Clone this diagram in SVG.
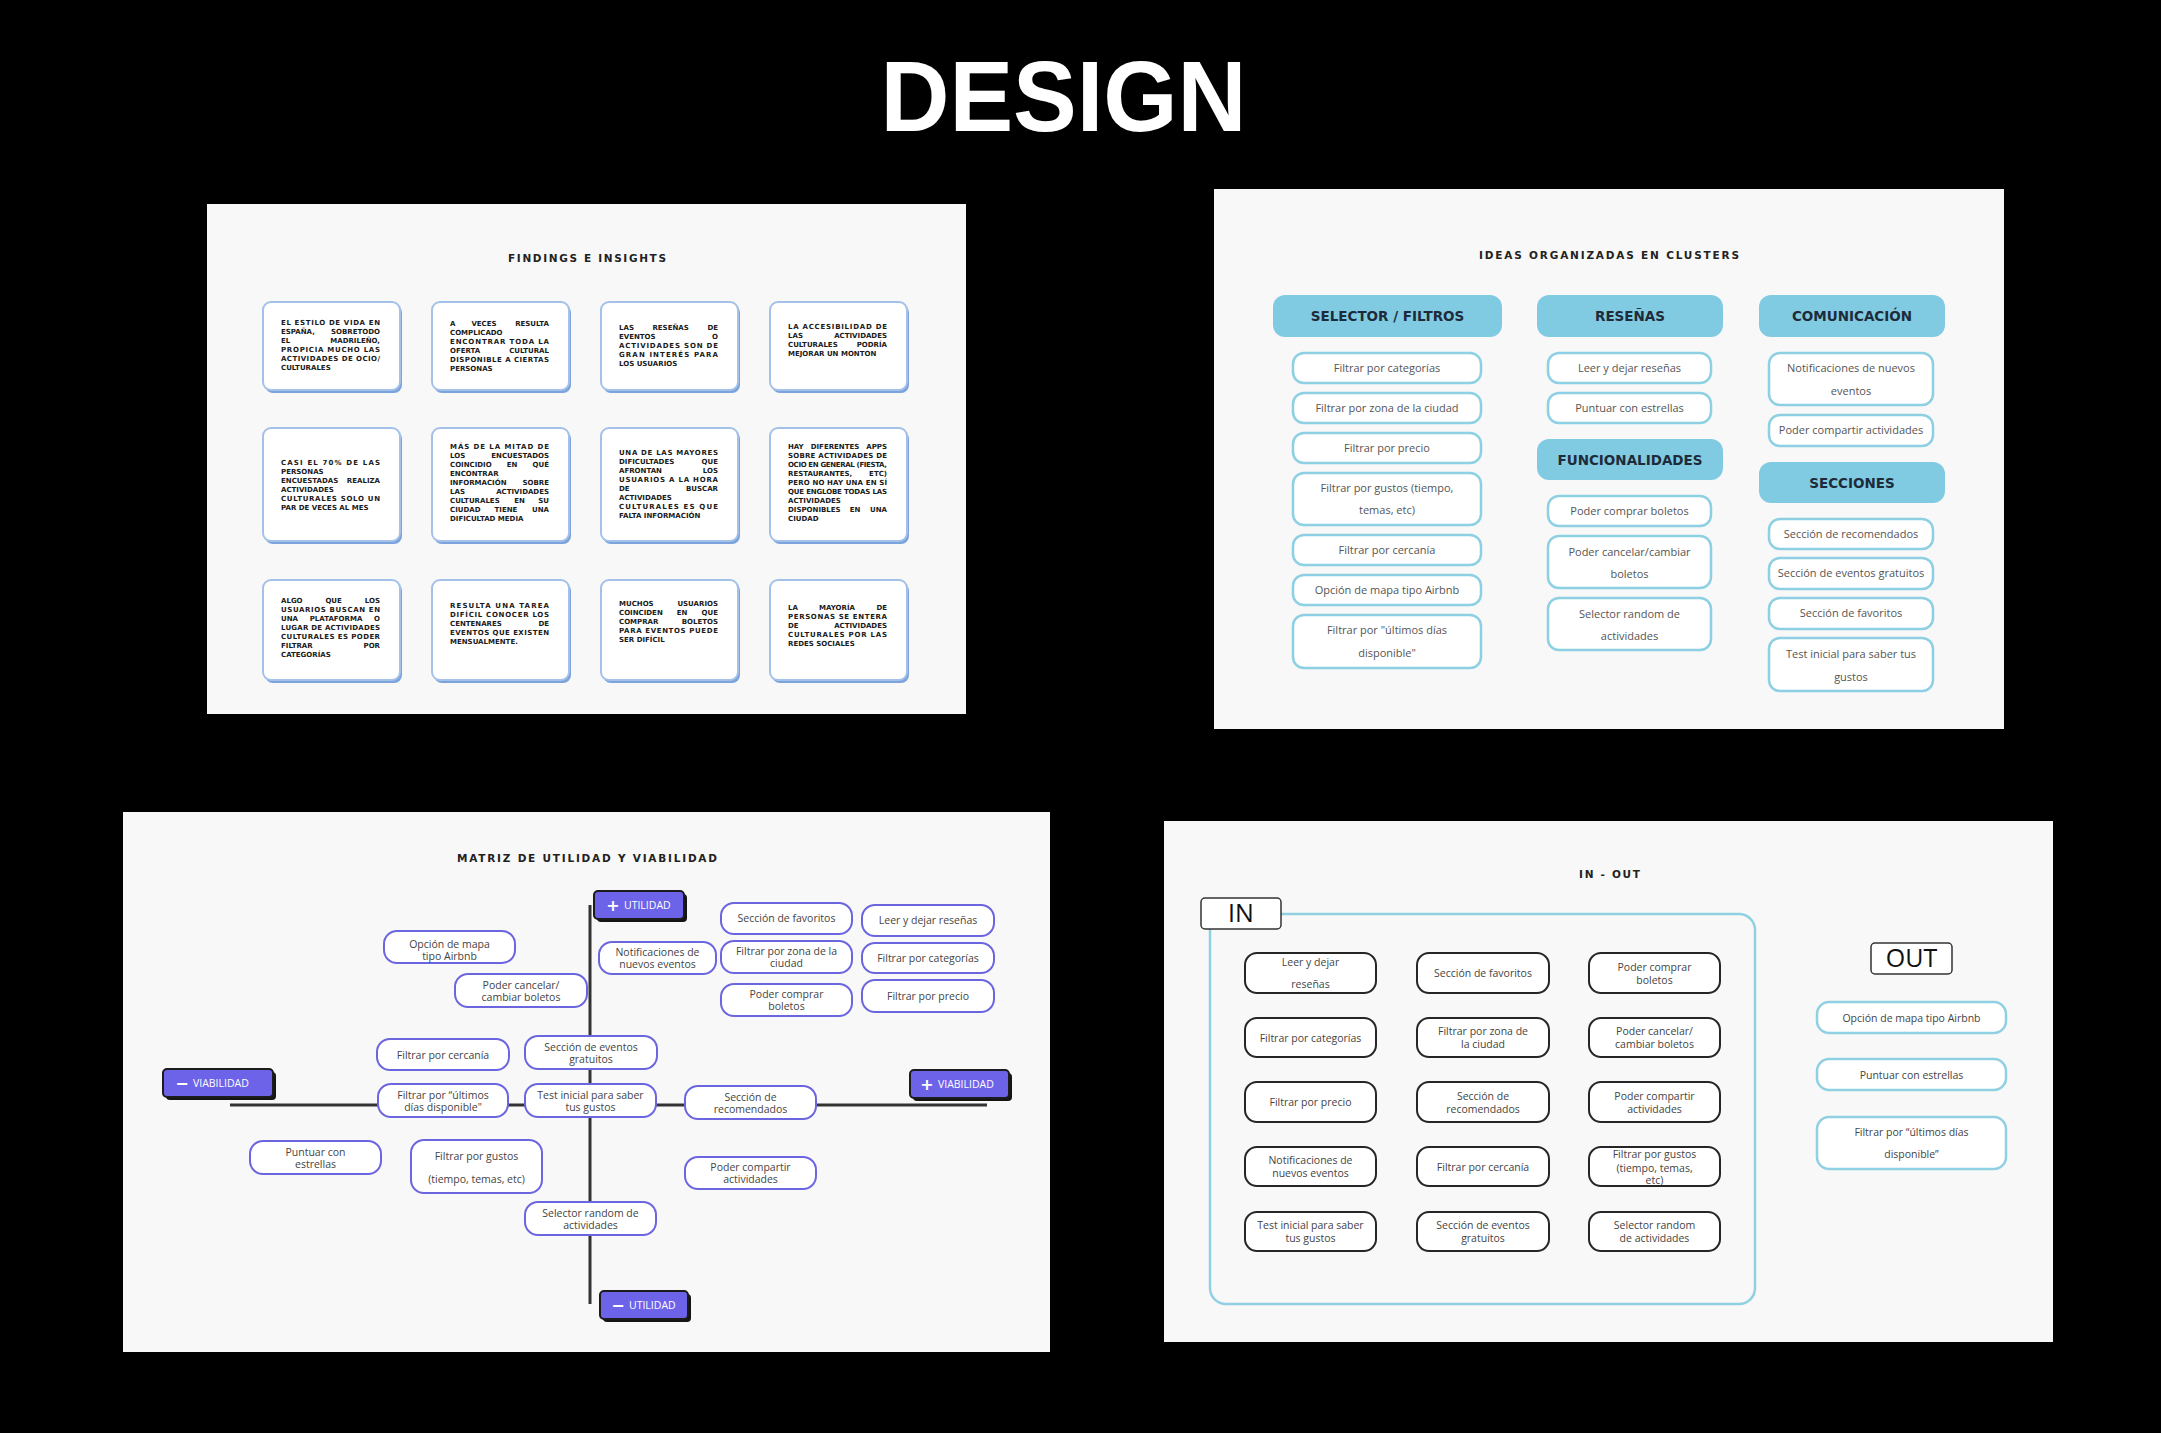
<svg xmlns="http://www.w3.org/2000/svg" width="2161" height="1433" viewBox="0 0 2161 1433">
<style>
.panel{fill:#f8f8f8}
.csh{fill:#7ba3dc}
.card{fill:#fff;stroke:#a4c1ea;stroke-width:2}
.ft{font-family:"DejaVu Sans",sans-serif;font-weight:bold;font-size:7px;fill:#1a1a1a}
.fe{text-anchor:end}
.fm{text-anchor:middle}
.ttl{font-family:"DejaVu Sans",sans-serif;font-weight:bold;font-size:10.5px;fill:#222}
.hdr{fill:#80cbe2}
.ht{font-family:"DejaVu Sans",sans-serif;font-weight:bold;font-size:13.5px;fill:#1e2b3a;text-anchor:middle}
.ci{fill:#fff;stroke:#8dd0e4;stroke-width:2.5}
.ct{font-family:"Open Sans",sans-serif;font-size:11px;fill:#555;text-anchor:middle}
.mi{fill:#fff;stroke:#6c65e0;stroke-width:2}
.mt{font-family:"Open Sans",sans-serif;font-size:10.5px;fill:#444;text-anchor:middle}
.axs{fill:#151515}
.axb{fill:#6d63e9;stroke:#1c1c1c;stroke-width:2}
.axt{font-family:"Open Sans",sans-serif;font-size:10.5px;fill:#fff}
.axp{font-family:"DejaVu Sans",sans-serif;font-weight:bold;font-size:16px;fill:#fff;text-anchor:middle}
.io{fill:#fff;stroke:#262626;stroke-width:2}
.ot{fill:#fff;stroke:#8fd0e3;stroke-width:2.5}
.lbl{fill:#fff;stroke:#333;stroke-width:1.5}
.lt{font-family:"Open Sans",sans-serif;font-size:25px;fill:#111;text-anchor:middle}
.axis{stroke:#333;stroke-width:3;fill:none}
</style>
<rect width="2161" height="1433" fill="#000"/>
<text x="1063.5" y="131" text-anchor="middle" textLength="366" lengthAdjust="spacingAndGlyphs" font-family="Liberation Sans, Arial, sans-serif" font-weight="bold" font-size="100" fill="#fff">DESIGN</text>

<!-- Panels -->
<rect class="panel" x="207" y="204" width="759" height="510"/>
<rect class="panel" x="1214" y="189" width="790" height="540"/>
<rect class="panel" x="123" y="812" width="927" height="540"/>
<rect class="panel" x="1164" y="821" width="889" height="521"/>

<text class="ttl" x="508" y="262" textLength="158">FINDINGS E INSIGHTS</text>
<text class="ttl" x="1479" y="259" textLength="260">IDEAS ORGANIZADAS EN CLUSTERS</text>
<text class="ttl" x="457" y="862" textLength="260" font-size="11.5">MATRIZ DE UTILIDAD Y VIABILIDAD</text>
<text class="ttl" x="1579" y="878" textLength="61">IN - OUT</text>

<!-- Findings cards -->
<g id="card1">
<rect class="csh" x="265" y="305" width="137" height="88" rx="8"/>
<rect class="card" x="263" y="302" width="137" height="88" rx="8"/>
<text class="ft" x="281" y="325" textLength="99">EL ESTILO DE VIDA EN</text>
<text class="ft" x="281" y="334">ESPAÑA,</text><text class="ft fe" x="380" y="334">SOBRETODO</text>
<text class="ft" x="281" y="343">EL</text><text class="ft fe" x="380" y="343">MADRILEÑO,</text>
<text class="ft" x="281" y="352" textLength="99">PROPICIA MUCHO LAS</text>
<text class="ft" x="281" y="361" textLength="99">ACTIVIDADES DE OCIO/</text>
<text class="ft" x="281" y="370">CULTURALES</text>
</g>
<g id="card2">
<rect class="csh" x="434" y="305" width="137" height="88" rx="8"/>
<rect class="card" x="432" y="302" width="137" height="88" rx="8"/>
<text class="ft" x="450" y="326">A</text><text class="ft fm" x="484" y="326">VECES</text><text class="ft fe" x="549" y="326">RESULTA</text>
<text class="ft" x="450" y="335">COMPLICADO</text>
<text class="ft" x="450" y="344" textLength="99">ENCONTRAR TODA LA</text>
<text class="ft" x="450" y="353">OFERTA</text><text class="ft fe" x="549" y="353">CULTURAL</text>
<text class="ft" x="450" y="362" textLength="99">DISPONIBLE A CIERTAS</text>
<text class="ft" x="450" y="371">PERSONAS</text>
</g>
<g id="card3">
<rect class="csh" x="603" y="305" width="137" height="88" rx="8"/>
<rect class="card" x="601" y="302" width="137" height="88" rx="8"/>
<text class="ft" x="619" y="330">LAS</text><text class="ft fm" x="670.6" y="330">RESEÑAS</text><text class="ft fe" x="718" y="330">DE</text>
<text class="ft" x="619" y="339">EVENTOS</text><text class="ft fe" x="718" y="339">O</text>
<text class="ft" x="619" y="348" textLength="99">ACTIVIDADES SON DE</text>
<text class="ft" x="619" y="357" textLength="99">GRAN INTERÉS PARA</text>
<text class="ft" x="619" y="366">LOS USUARIOS</text>
</g>
<g id="card4">
<rect class="csh" x="772" y="305" width="137" height="88" rx="8"/>
<rect class="card" x="770" y="302" width="137" height="88" rx="8"/>
<text class="ft" x="788" y="329" textLength="99">LA ACCESIBILIDAD DE</text>
<text class="ft" x="788" y="338">LAS</text><text class="ft fe" x="887" y="338">ACTIVIDADES</text>
<text class="ft" x="788" y="347">CULTURALES</text><text class="ft fe" x="887" y="347">PODRÍA</text>
<text class="ft" x="788" y="356">MEJORAR UN MONTON</text>
</g>
<g id="card5">
<rect class="csh" x="265" y="431" width="137" height="113" rx="8"/>
<rect class="card" x="263" y="428" width="137" height="113" rx="8"/>
<text class="ft" x="281" y="465" textLength="99">CASI EL 70% DE LAS</text>
<text class="ft" x="281" y="474">PERSONAS</text>
<text class="ft" x="281" y="483">ENCUESTADAS</text><text class="ft fe" x="380" y="483">REALIZA</text>
<text class="ft" x="281" y="492">ACTIVIDADES</text>
<text class="ft" x="281" y="501" textLength="99">CULTURALES SOLO UN</text>
<text class="ft" x="281" y="510">PAR DE VECES AL MES</text>
</g>
<g id="card6">
<rect class="csh" x="434" y="431" width="137" height="113" rx="8"/>
<rect class="card" x="432" y="428" width="137" height="113" rx="8"/>
<text class="ft" x="450" y="449" textLength="99">MÁS DE LA MITAD DE</text>
<text class="ft" x="450" y="458">LOS</text><text class="ft fe" x="549" y="458">ENCUESTADOS</text>
<text class="ft" x="450" y="467">COINCIDIO</text><text class="ft fm" x="512" y="467">EN</text><text class="ft fe" x="549" y="467">QUÉ</text>
<text class="ft" x="450" y="476">ENCONTRAR</text>
<text class="ft" x="450" y="485">INFORMACIÓN</text><text class="ft fe" x="549" y="485">SOBRE</text>
<text class="ft" x="450" y="494">LAS</text><text class="ft fe" x="549" y="494">ACTIVIDADES</text>
<text class="ft" x="450" y="503">CULTURALES</text><text class="ft fm" x="519.5" y="503">EN</text><text class="ft fe" x="549" y="503">SU</text>
<text class="ft" x="450" y="512">CIUDAD</text><text class="ft fm" x="506" y="512">TIENE</text><text class="ft fe" x="549" y="512">UNA</text>
<text class="ft" x="450" y="521">DIFICULTAD MEDIA</text>
</g>
<g id="card7">
<rect class="csh" x="603" y="431" width="137" height="113" rx="8"/>
<rect class="card" x="601" y="428" width="137" height="113" rx="8"/>
<text class="ft" x="619" y="455" textLength="99">UNA DE LAS MAYORES</text>
<text class="ft" x="619" y="464">DIFICULTADES</text><text class="ft fe" x="718" y="464">QUE</text>
<text class="ft" x="619" y="473">AFRONTAN</text><text class="ft fe" x="718" y="473">LOS</text>
<text class="ft" x="619" y="482" textLength="99">USUARIOS A LA HORA</text>
<text class="ft" x="619" y="491">DE</text><text class="ft fe" x="718" y="491">BUSCAR</text>
<text class="ft" x="619" y="500">ACTIVIDADES</text>
<text class="ft" x="619" y="509" textLength="99">CULTURALES ES QUE</text>
<text class="ft" x="619" y="518">FALTA INFORMACIÓN</text>
</g>
<g id="card8">
<rect class="csh" x="772" y="431" width="137" height="113" rx="8"/>
<rect class="card" x="770" y="428" width="137" height="113" rx="8"/>
<text class="ft" x="788" y="449">HAY</text><text class="ft fm" x="835" y="449">DIFERENTES</text><text class="ft fe" x="887" y="449">APPS</text>
<text class="ft" x="788" y="458" textLength="99">SOBRE ACTIVIDADES DE</text>
<text class="ft" x="788" y="467" textLength="99">OCIO EN GENERAL (FIESTA,</text>
<text class="ft" x="788" y="476">RESTAURANTES,</text><text class="ft fe" x="887" y="476">ETC)</text>
<text class="ft" x="788" y="485" textLength="99">PERO NO HAY UNA EN SÍ</text>
<text class="ft" x="788" y="494" textLength="99">QUE ENGLOBE TODAS LAS</text>
<text class="ft" x="788" y="503">ACTIVIDADES</text>
<text class="ft" x="788" y="512">DISPONIBLES</text><text class="ft fm" x="855" y="512">EN</text><text class="ft fe" x="887" y="512">UNA</text>
<text class="ft" x="788" y="521">CIUDAD</text>
</g>
<g id="card9">
<rect class="csh" x="265" y="583" width="137" height="100" rx="8"/>
<rect class="card" x="263" y="580" width="137" height="100" rx="8"/>
<text class="ft" x="281" y="603">ALGO</text><text class="ft fm" x="333.6" y="603">QUE</text><text class="ft fe" x="380" y="603">LOS</text>
<text class="ft" x="281" y="612" textLength="99">USUARIOS BUSCAN EN</text>
<text class="ft" x="281" y="621">UNA</text><text class="ft fm" x="336" y="621">PLATAFORMA</text><text class="ft fe" x="380" y="621">O</text>
<text class="ft" x="281" y="630" textLength="99">LUGAR DE ACTIVIDADES</text>
<text class="ft" x="281" y="639" textLength="99">CULTURALES ES PODER</text>
<text class="ft" x="281" y="648">FILTRAR</text><text class="ft fe" x="380" y="648">POR</text>
<text class="ft" x="281" y="657">CATEGORÍAS</text>
</g>
<g id="card10">
<rect class="csh" x="434" y="583" width="137" height="100" rx="8"/>
<rect class="card" x="432" y="580" width="137" height="100" rx="8"/>
<text class="ft" x="450" y="608" textLength="99">RESULTA UNA TAREA</text>
<text class="ft" x="450" y="617" textLength="99">DIFÍCIL CONOCER LOS</text>
<text class="ft" x="450" y="626">CENTENARES</text><text class="ft fe" x="549" y="626">DE</text>
<text class="ft" x="450" y="635" textLength="99">EVENTOS QUE EXISTEN</text>
<text class="ft" x="450" y="644">MENSUALMENTE.</text>
</g>
<g id="card11">
<rect class="csh" x="603" y="583" width="137" height="100" rx="8"/>
<rect class="card" x="601" y="580" width="137" height="100" rx="8"/>
<text class="ft" x="619" y="606">MUCHOS</text><text class="ft fe" x="718" y="606">USUARIOS</text>
<text class="ft" x="619" y="615">COINCIDEN</text><text class="ft fm" x="682" y="615">EN</text><text class="ft fe" x="718" y="615">QUE</text>
<text class="ft" x="619" y="624">COMPRAR</text><text class="ft fe" x="718" y="624">BOLETOS</text>
<text class="ft" x="619" y="633" textLength="99">PARA EVENTOS PUEDE</text>
<text class="ft" x="619" y="642">SER DIFÍCIL</text>
</g>
<g id="card12">
<rect class="csh" x="772" y="583" width="137" height="100" rx="8"/>
<rect class="card" x="770" y="580" width="137" height="100" rx="8"/>
<text class="ft" x="788" y="610">LA</text><text class="ft fm" x="837" y="610">MAYORÍA</text><text class="ft fe" x="887" y="610">DE</text>
<text class="ft" x="788" y="619" textLength="99">PERSONAS SE ENTERA</text>
<text class="ft" x="788" y="628">DE</text><text class="ft fe" x="887" y="628">ACTIVIDADES</text>
<text class="ft" x="788" y="637" textLength="99">CULTURALES POR LAS</text>
<text class="ft" x="788" y="646">REDES SOCIALES</text>
</g>

<!-- Clusters -->
<g id="h-selector"><rect class="hdr" x="1273" y="295" width="229" height="42" rx="12"/><text class="ht" x="1387.5" y="320.5">SELECTOR / FILTROS</text></g>
<g id="h-resenas"><rect class="hdr" x="1537" y="295" width="186" height="42" rx="12"/><text class="ht" x="1630" y="320.5">RESEÑAS</text></g>
<g id="h-comunicacion"><rect class="hdr" x="1759" y="295" width="186" height="42" rx="12"/><text class="ht" x="1852" y="320.5">COMUNICACIÓN</text></g>
<g id="h-funcionalidades"><rect class="hdr" x="1537" y="439" width="186" height="41" rx="12"/><text class="ht" x="1630" y="464.5">FUNCIONALIDADES</text></g>
<g id="h-secciones"><rect class="hdr" x="1759" y="462" width="186" height="41" rx="12"/><text class="ht" x="1852" y="487.5">SECCIONES</text></g>

<g id="c-categorias"><rect class="ci" x="1293" y="353" width="188" height="30" rx="11"/><text class="ct" x="1387" y="372">Filtrar por categorías</text></g>
<g id="c-zona"><rect class="ci" x="1293" y="393" width="188" height="30" rx="11"/><text class="ct" x="1387" y="412">Filtrar por zona de la ciudad</text></g>
<g id="c-precio"><rect class="ci" x="1293" y="433" width="188" height="30" rx="11"/><text class="ct" x="1387" y="452">Filtrar por precio</text></g>
<g id="c-gustos"><rect class="ci" x="1293" y="473" width="188" height="52" rx="11"/><text class="ct" x="1387" y="492">Filtrar por gustos (tiempo,</text><text class="ct" x="1387" y="514">temas, etc)</text></g>
<g id="c-cercania"><rect class="ci" x="1293" y="535" width="188" height="30" rx="11"/><text class="ct" x="1387" y="554">Filtrar por cercanía</text></g>
<g id="c-mapa"><rect class="ci" x="1293" y="575" width="188" height="30" rx="11"/><text class="ct" x="1387" y="594">Opción de mapa tipo Airbnb</text></g>
<g id="c-ultimos"><rect class="ci" x="1293" y="615" width="188" height="53" rx="11"/><text class="ct" x="1387" y="634">Filtrar por "últimos días</text><text class="ct" x="1387" y="657">disponible"</text></g>

<g id="c-leer"><rect class="ci" x="1548" y="353" width="163" height="30" rx="11"/><text class="ct" x="1629.5" y="372">Leer y dejar reseñas</text></g>
<g id="c-puntuar"><rect class="ci" x="1548" y="393" width="163" height="30" rx="11"/><text class="ct" x="1629.5" y="412">Puntuar con estrellas</text></g>
<g id="c-comprar"><rect class="ci" x="1548" y="496" width="163" height="30" rx="11"/><text class="ct" x="1629.5" y="515">Poder comprar boletos</text></g>
<g id="c-cancelar"><rect class="ci" x="1548" y="536" width="163" height="52" rx="11"/><text class="ct" x="1629.5" y="556">Poder cancelar/cambiar</text><text class="ct" x="1629.5" y="578">boletos</text></g>
<g id="c-random"><rect class="ci" x="1548" y="598" width="163" height="52" rx="11"/><text class="ct" x="1629.5" y="618">Selector random de</text><text class="ct" x="1629.5" y="640">actividades</text></g>

<g id="c-notif"><rect class="ci" x="1769" y="353" width="164" height="52" rx="11"/><text class="ct" x="1851" y="372">Notificaciones de nuevos</text><text class="ct" x="1851" y="395">eventos</text></g>
<g id="c-compartir"><rect class="ci" x="1769" y="415" width="164" height="31" rx="11"/><text class="ct" x="1851" y="434">Poder compartir actividades</text></g>
<g id="c-recomendados"><rect class="ci" x="1769" y="519" width="164" height="30" rx="11"/><text class="ct" x="1851" y="538">Sección de recomendados</text></g>
<g id="c-gratuitos"><rect class="ci" x="1769" y="558" width="164" height="31" rx="11"/><text class="ct" x="1851" y="577">Sección de eventos gratuitos</text></g>
<g id="c-favoritos"><rect class="ci" x="1769" y="598" width="164" height="31" rx="11"/><text class="ct" x="1851" y="617">Sección de favoritos</text></g>
<g id="c-test"><rect class="ci" x="1769" y="638" width="164" height="53" rx="11"/><text class="ct" x="1851" y="658">Test inicial para saber tus</text><text class="ct" x="1851" y="681">gustos</text></g>

<!-- Matrix connectors (axes) -->
<g id="connectors">
<line class="axis" x1="590" y1="905" x2="590" y2="1304"/>
<line class="axis" x1="230" y1="1105" x2="987" y2="1105"/>
</g>

<g id="ax-util-plus"><rect class="axs" x="597" y="894" width="90" height="28" rx="4"/><rect class="axb" x="594" y="891" width="90" height="28" rx="4"/><text class="axp" x="613" y="911">+</text><text class="axt" x="624" y="909">UTILIDAD</text></g>
<g id="ax-util-minus"><rect class="axs" x="603" y="1294" width="88" height="28" rx="4"/><rect class="axb" x="600" y="1291" width="88" height="28" rx="4"/><text class="axp" x="618" y="1311">−</text><text class="axt" x="629" y="1309">UTILIDAD</text></g>
<g id="ax-via-minus"><rect class="axs" x="166" y="1072" width="110" height="28" rx="4"/><rect class="axb" x="163" y="1069" width="110" height="28" rx="4"/><text class="axp" x="182" y="1089">−</text><text class="axt" x="193" y="1087">VIABILIDAD</text></g>
<g id="ax-via-plus"><rect class="axs" x="913" y="1073" width="99" height="28" rx="4"/><rect class="axb" x="910" y="1070" width="99" height="28" rx="4"/><text class="axp" x="927" y="1090">+</text><text class="axt" x="938" y="1088">VIABILIDAD</text></g>

<g id="m-mapa"><rect class="mi" x="384" y="931" width="131" height="32" rx="13"/><text class="mt" x="449.5" y="948">Opción de mapa</text><text class="mt" x="449.5" y="960">tipo Airbnb</text></g>
<g id="m-cancelar"><rect class="mi" x="455" y="974" width="132" height="33" rx="13"/><text class="mt" x="521" y="989">Poder cancelar/</text><text class="mt" x="521" y="1001">cambiar boletos</text></g>
<g id="m-notif"><rect class="mi" x="599" y="942" width="117" height="32" rx="13"/><text class="mt" x="657.5" y="956">Notificaciones de</text><text class="mt" x="657.5" y="968">nuevos eventos</text></g>
<g id="m-favoritos"><rect class="mi" x="721" y="903" width="131" height="31" rx="13"/><text class="mt" x="786.5" y="922">Sección de favoritos</text></g>
<g id="m-zona"><rect class="mi" x="721" y="941" width="131" height="32" rx="13"/><text class="mt" x="786.5" y="955">Filtrar por zona de la</text><text class="mt" x="786.5" y="967">ciudad</text></g>
<g id="m-comprar"><rect class="mi" x="721" y="984" width="131" height="32" rx="13"/><text class="mt" x="786.5" y="998">Poder comprar</text><text class="mt" x="786.5" y="1010">boletos</text></g>
<g id="m-leer"><rect class="mi" x="862" y="905" width="132" height="31" rx="13"/><text class="mt" x="928" y="924">Leer y dejar reseñas</text></g>
<g id="m-categorias"><rect class="mi" x="862" y="943" width="132" height="30" rx="13"/><text class="mt" x="928" y="962">Filtrar por categorías</text></g>
<g id="m-precio"><rect class="mi" x="862" y="980" width="132" height="32" rx="13"/><text class="mt" x="928" y="1000">Filtrar por precio</text></g>
<g id="m-cercania"><rect class="mi" x="377" y="1039" width="132" height="31" rx="13"/><text class="mt" x="443" y="1059">Filtrar por cercanía</text></g>
<g id="m-gratuitos"><rect class="mi" x="525" y="1036" width="132" height="33" rx="13"/><text class="mt" x="591" y="1051">Sección de eventos</text><text class="mt" x="591" y="1063">gratuitos</text></g>
<g id="m-ultimos"><rect class="mi" x="378" y="1084" width="130" height="33" rx="13"/><text class="mt" x="443" y="1099">Filtrar por “últimos</text><text class="mt" x="443" y="1111">días disponible"</text></g>
<g id="m-test"><rect class="mi" x="525" y="1084" width="131" height="33" rx="13"/><text class="mt" x="590.5" y="1099">Test inicial para saber</text><text class="mt" x="590.5" y="1111">tus gustos</text></g>
<g id="m-recomendados"><rect class="mi" x="685" y="1086" width="131" height="33" rx="13"/><text class="mt" x="750.5" y="1101">Sección de</text><text class="mt" x="750.5" y="1113">recomendados</text></g>
<g id="m-puntuar"><rect class="mi" x="250" y="1141" width="131" height="33" rx="13"/><text class="mt" x="315.5" y="1156">Puntuar con</text><text class="mt" x="315.5" y="1168">estrellas</text></g>
<g id="m-gustos"><rect class="mi" x="411" y="1140" width="131" height="53" rx="13"/><text class="mt" x="476.5" y="1160">Filtrar por gustos</text><text class="mt" x="476.5" y="1183">(tiempo, temas, etc)</text></g>
<g id="m-compartir"><rect class="mi" x="685" y="1157" width="131" height="32" rx="13"/><text class="mt" x="750.5" y="1171">Poder compartir</text><text class="mt" x="750.5" y="1183">actividades</text></g>
<g id="m-random"><rect class="mi" x="525" y="1202" width="131" height="33" rx="13"/><text class="mt" x="590.5" y="1217">Selector random de</text><text class="mt" x="590.5" y="1229">actividades</text></g>

<!-- IN / OUT -->
<g id="in-group">
<rect x="1210" y="914" width="545" height="390" rx="16" fill="none" stroke="#8fd0e3" stroke-width="2.5"/>
<rect class="lbl" x="1201" y="898" width="80" height="31" rx="4"/>
<text class="lt" x="1241" y="922">IN</text>
</g>
<g id="in-leer"><rect class="io" x="1245" y="953" width="131" height="40" rx="12"/><text class="mt" x="1310.5" y="966">Leer y dejar</text><text class="mt" x="1310.5" y="988">reseñas</text></g>
<g id="in-favoritos"><rect class="io" x="1417" y="953" width="132" height="40" rx="12"/><text class="mt" x="1483" y="977">Sección de favoritos</text></g>
<g id="in-comprar"><rect class="io" x="1589" y="953" width="131" height="40" rx="12"/><text class="mt" x="1654.5" y="970.5">Poder comprar</text><text class="mt" x="1654.5" y="983.5">boletos</text></g>
<g id="in-categorias"><rect class="io" x="1245" y="1018" width="131" height="39" rx="12"/><text class="mt" x="1310.5" y="1041.5">Filtrar por categorías</text></g>
<g id="in-zona"><rect class="io" x="1417" y="1018" width="132" height="39" rx="12"/><text class="mt" x="1483" y="1035">Filtrar por zona de</text><text class="mt" x="1483" y="1048">la ciudad</text></g>
<g id="in-cancelar"><rect class="io" x="1589" y="1018" width="131" height="39" rx="12"/><text class="mt" x="1654.5" y="1035">Poder cancelar/</text><text class="mt" x="1654.5" y="1048">cambiar boletos</text></g>
<g id="in-precio"><rect class="io" x="1245" y="1082" width="131" height="40" rx="12"/><text class="mt" x="1310.5" y="1106">Filtrar por precio</text></g>
<g id="in-recomendados"><rect class="io" x="1417" y="1082" width="132" height="40" rx="12"/><text class="mt" x="1483" y="1099.5">Sección de</text><text class="mt" x="1483" y="1112.5">recomendados</text></g>
<g id="in-compartir"><rect class="io" x="1589" y="1082" width="131" height="40" rx="12"/><text class="mt" x="1654.5" y="1099.5">Poder compartir</text><text class="mt" x="1654.5" y="1112.5">actividades</text></g>
<g id="in-notif"><rect class="io" x="1245" y="1147" width="131" height="39" rx="12"/><text class="mt" x="1310.5" y="1164">Notificaciones de</text><text class="mt" x="1310.5" y="1177">nuevos eventos</text></g>
<g id="in-cercania"><rect class="io" x="1417" y="1147" width="132" height="39" rx="12"/><text class="mt" x="1483" y="1170.5">Filtrar por cercanía</text></g>
<g id="in-gustos"><rect class="io" x="1589" y="1147" width="131" height="39" rx="12"/><text class="mt" x="1654.5" y="1158">Filtrar por gustos</text><text class="mt" x="1654.5" y="1171.5">(tiempo, temas,</text><text class="mt" x="1654.5" y="1184">etc)</text></g>
<g id="in-test"><rect class="io" x="1245" y="1212" width="131" height="39" rx="12"/><text class="mt" x="1310.5" y="1229">Test inicial para saber</text><text class="mt" x="1310.5" y="1242">tus gustos</text></g>
<g id="in-gratuitos"><rect class="io" x="1417" y="1212" width="132" height="39" rx="12"/><text class="mt" x="1483" y="1229">Sección de eventos</text><text class="mt" x="1483" y="1242">gratuitos</text></g>
<g id="in-random"><rect class="io" x="1589" y="1212" width="131" height="39" rx="12"/><text class="mt" x="1654.5" y="1229">Selector random</text><text class="mt" x="1654.5" y="1242">de actividades</text></g>

<g id="out-label"><rect class="lbl" x="1871" y="943" width="81" height="31" rx="4"/><text class="lt" x="1911.5" y="967">OUT</text></g>
<g id="out-mapa"><rect class="ot" x="1817" y="1002" width="189" height="31" rx="12"/><text class="mt" x="1911.5" y="1021.5">Opción de mapa tipo Airbnb</text></g>
<g id="out-puntuar"><rect class="ot" x="1817" y="1059" width="189" height="31" rx="12"/><text class="mt" x="1911.5" y="1078.5">Puntuar con estrellas</text></g>
<g id="out-ultimos"><rect class="ot" x="1817" y="1117" width="189" height="52" rx="12"/><text class="mt" x="1911.5" y="1136">Filtrar por “últimos días</text><text class="mt" x="1911.5" y="1158">disponible”</text></g>
</svg>
